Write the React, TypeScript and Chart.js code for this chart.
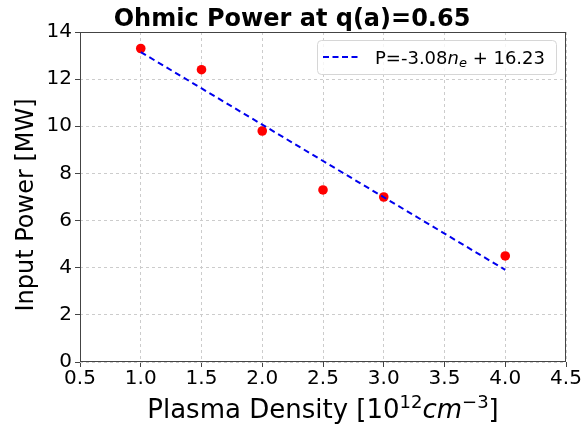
import React, { useEffect, useRef } from "react";
import { Chart, registerables } from "chart.js";

Chart.register(...registerables);

const densities = [1.0, 1.5, 2.0, 2.5, 3.0, 4.0];
const powers = [13.3, 12.4, 9.8, 7.3, 7.0, 4.5];
const fitX = [1.0, 4.0];
const fitY = [13.15, 3.91];
const titleText = "Ohmic Power at q(a)=0.65";
const yTitle = "Input Power [MW]";

const FONT = "'DejaVu Sans', sans-serif";

const customDraw = {
  id: "customDraw",
  afterDraw(chart: any) {
    const { ctx, chartArea: a } = chart;
    ctx.save();
    // frame
    ctx.strokeStyle = "#444";
    ctx.lineWidth = 1;
    ctx.strokeRect(a.left + 0.5, a.top + 0.5, a.right - a.left - 1, a.bottom - a.top - 1);
    // title
    ctx.fillStyle = "#000";
    ctx.font = `bold 24px ${FONT}`;
    ctx.textAlign = "center";
    ctx.textBaseline = "alphabetic";
    ctx.fillText(titleText, chart.width / 2, 26);
    // x title with superscripts
    const cx = (a.left + a.right) / 2;
    const baseY = 418;
    const parts: [string, string, number][] = [
      ["Plasma Density [10", `26px ${FONT}`, 0],
      ["12", `18px ${FONT}`, -10],
      ["cm", `italic 26px ${FONT}`, 0],
      ["\u22123", `18px ${FONT}`, -10],
      ["]", `26px ${FONT}`, 0],
    ];
    let total = 0;
    for (const p of parts) {
      ctx.font = p[1];
      total += ctx.measureText(p[0]).width;
    }
    let x = cx - total / 2;
    ctx.textAlign = "left";
    for (const p of parts) {
      ctx.font = p[1];
      ctx.fillText(p[0], x, baseY + p[2]);
      x += ctx.measureText(p[0]).width;
    }
    // y title
    ctx.save();
    ctx.translate(33, (a.top + a.bottom) / 2 + 8);
    ctx.rotate(-Math.PI / 2);
    ctx.font = `24px ${FONT}`;
    ctx.textAlign = "center";
    ctx.fillText(yTitle, 0, 0);
    ctx.restore();
    // legend
    const lx = 317, ly = 40, lw = 239, lh = 34;
    ctx.fillStyle = "rgba(255,255,255,0.8)";
    ctx.strokeStyle = "#d6d6d6";
    ctx.lineWidth = 1;
    ctx.beginPath();
    (ctx as any).roundRect(lx + 0.5, ly + 0.5, lw, lh, 4);
    ctx.fill();
    ctx.stroke();
    ctx.strokeStyle = "#0000ee";
    ctx.lineWidth = 2;
    ctx.setLineDash([6, 3.5]);
    ctx.beginPath();
    ctx.moveTo(lx + 6, ly + 17);
    ctx.lineTo(lx + 44, ly + 17);
    ctx.stroke();
    ctx.setLineDash([]);
    ctx.fillStyle = "#000";
    let tx = lx + 58;
    const ty = ly + 24;
    const lparts: [string, string, number][] = [
      ["P=-3.08", `18px ${FONT}`, 0],
      ["n", `italic 18px ${FONT}`, 0],
      ["e", `italic 13px ${FONT}`, 3],
      [" + 16.23", `18px ${FONT}`, 0],
    ];
    for (const p of lparts) {
      ctx.font = p[1];
      ctx.fillText(p[0], tx, ty + p[2]);
      tx += ctx.measureText(p[0]).width;
    }
    ctx.restore();
  },
};

export default function App() {
  const ref = useRef<HTMLCanvasElement>(null);
  useEffect(() => {
    document.body.style.margin = "0";
    const chart = new Chart(ref.current!, {
      type: "scatter",
      data: {
        datasets: [
          {
            type: "line",
            label: "P=-3.08ne + 16.23",
            data: fitX.map((x, i) => ({ x, y: fitY[i] })),
            borderColor: "#0000ee",
            borderWidth: 2,
            borderDash: [6, 4],
            pointRadius: 0,
            fill: false,
          } as any,
          {
            label: "data",
            data: densities.map((x, i) => ({ x, y: powers[i] })),
            backgroundColor: "#ff0000",
            borderColor: "#ff0000",
            borderWidth: 0,
            pointRadius: 4.8,
          },
        ],
      },
      options: {
        animation: false,
        responsive: false,
        layout: { padding: { top: 32, right: 18, left: 0, bottom: 0 } },
        plugins: { legend: { display: false }, tooltip: { enabled: false } },
        scales: {
          x: {
            type: "linear",
            min: 0.5,
            max: 4.5,
            ticks: {
              stepSize: 0.5,
              color: "#000",
              font: { family: FONT, size: 20 },
              padding: 0,
              maxRotation: 0,
              autoSkip: false,
              callback: (v: any) => Number(v).toFixed(1),
            },
            grid: { color: "#cccccc", tickColor: "#444", tickLength: 5, tickBorderDash: [] },
            border: { display: false, dash: [3, 3] },
            afterFit: (s: any) => {
              s.height = 65;
              s.paddingLeft = 0;
              s.paddingRight = 0;
            },
          },
          y: {
            min: 0,
            max: 14,
            ticks: {
              stepSize: 2,
              color: "#000",
              font: { family: FONT, size: 20 },
              padding: 3,
            },
            grid: { color: "#cccccc", tickColor: "#444", tickLength: 5, tickBorderDash: [] },
            border: { display: false, dash: [3, 3] },
            afterFit: (s: any) => {
              s.width = 80;
              s.paddingTop = 0;
              s.paddingBottom = 0;
            },
          },
        },
      },
      plugins: [customDraw],
    } as any);
    return () => chart.destroy();
  }, []);
  return (
    <div style={{ width: 584, height: 427 }}>
      <canvas ref={ref} width={584} height={427} style={{ display: "block" }} />
    </div>
  );
}
